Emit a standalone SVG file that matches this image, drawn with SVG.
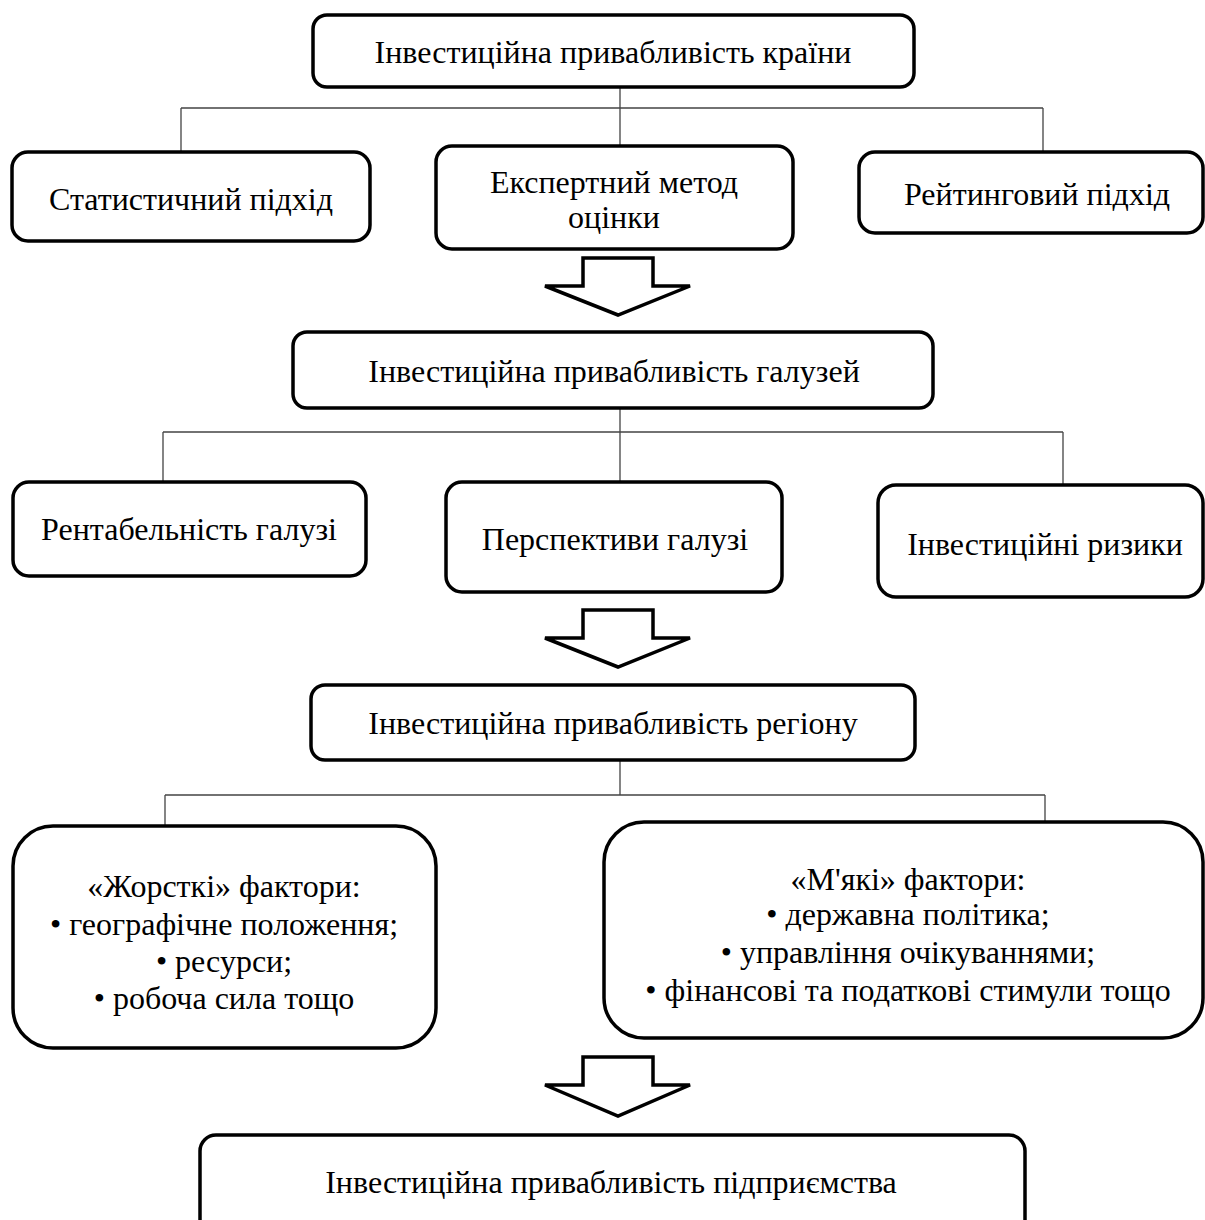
<svg xmlns="http://www.w3.org/2000/svg" width="1205" height="1220" viewBox="0 0 1205 1220">
<style>
.box{fill:#fff;stroke:#000;stroke-width:3.5}
.t{font-family:"Liberation Serif","Times New Roman",serif;font-size:32px;fill:#000;text-anchor:middle}
.c{fill:none;stroke:#444;stroke-width:1.3}
.arr{fill:#fff;stroke:#000;stroke-width:3.5;stroke-linejoin:miter}
</style>
<rect width="1205" height="1220" fill="#fff"/>
<g id="connectors">
<path class="c" d="M620 87V148M181 108H1043M181 108V152M1043 108V152"/>
<path class="c" d="M620 408V483M163 432H1063M163 432V482M1063 432V485"/>
<path class="c" d="M620 760V795M165 795H1045M165 795V826M1045 795V822"/>
<polygon class="arr" points="583,258 653,258 653,286 690,286 618,315 545,286 583,286"/>
<polygon class="arr" points="583,610 653,610 653,638 690,638 618,667 545,638 583,638"/>
<polygon class="arr" points="583,1057 653,1057 653,1085 690,1085 618,1116 545,1085 583,1085"/>
</g>
<g id="n-country"><rect class="box" x="313" y="15" width="601" height="72" rx="14"/><text class="t" x="613" y="63">Інвестиційна привабливість країни</text></g>
<g id="n-stat"><rect class="box" x="12" y="152" width="358" height="89" rx="16"/><text class="t" x="191" y="210">Статистичний підхід</text></g>
<g id="n-expert"><rect class="box" x="436" y="146" width="357" height="103" rx="16"/><text class="t" x="614" y="193">Експертний метод</text><text class="t" x="614" y="228">оцінки</text></g>
<g id="n-rating"><rect class="box" x="859" y="152" width="344" height="81" rx="16"/><text class="t" x="1037" y="205">Рейтинговий підхід</text></g>
<g id="n-branch"><rect class="box" x="293" y="332" width="640" height="76" rx="14"/><text class="t" x="614" y="382">Інвестиційна привабливість галузей</text></g>
<g id="n-profit"><rect class="box" x="13" y="482" width="353" height="94" rx="16"/><text class="t" x="189" y="540">Рентабельність галузі</text></g>
<g id="n-persp"><rect class="box" x="446" y="482" width="336" height="110" rx="16"/><text class="t" x="615" y="550">Перспективи галузі</text></g>
<g id="n-risk"><rect class="box" x="878" y="485" width="325" height="112" rx="18"/><text class="t" x="1045" y="555">Інвестиційні ризики</text></g>
<g id="n-region"><rect class="box" x="311" y="685" width="604" height="75" rx="14"/><text class="t" x="613" y="734">Інвестиційна привабливість регіону</text></g>
<g id="n-hard"><rect class="box" x="13" y="826" width="423" height="222" rx="40"/>
<text class="t" x="224" y="897">«Жорсткі» фактори:</text>
<text class="t" x="224" y="935">• географічне положення;</text>
<text class="t" x="224" y="972">• ресурси;</text>
<text class="t" x="224" y="1009">• робоча сила тощо</text></g>
<g id="n-soft"><rect class="box" x="604" y="822" width="599" height="216" rx="40"/>
<text class="t" x="908" y="890">«М'які» фактори:</text>
<text class="t" x="908" y="925">• державна політика;</text>
<text class="t" x="908" y="963">• управління очікуваннями;</text>
<text class="t" x="908" y="1001">• фінансові та податкові стимули тощо</text></g>
<g id="n-enterprise"><rect class="box" x="200" y="1135" width="825" height="110" rx="16"/><text class="t" x="611" y="1193">Інвестиційна привабливість підприємства</text></g>
</svg>
